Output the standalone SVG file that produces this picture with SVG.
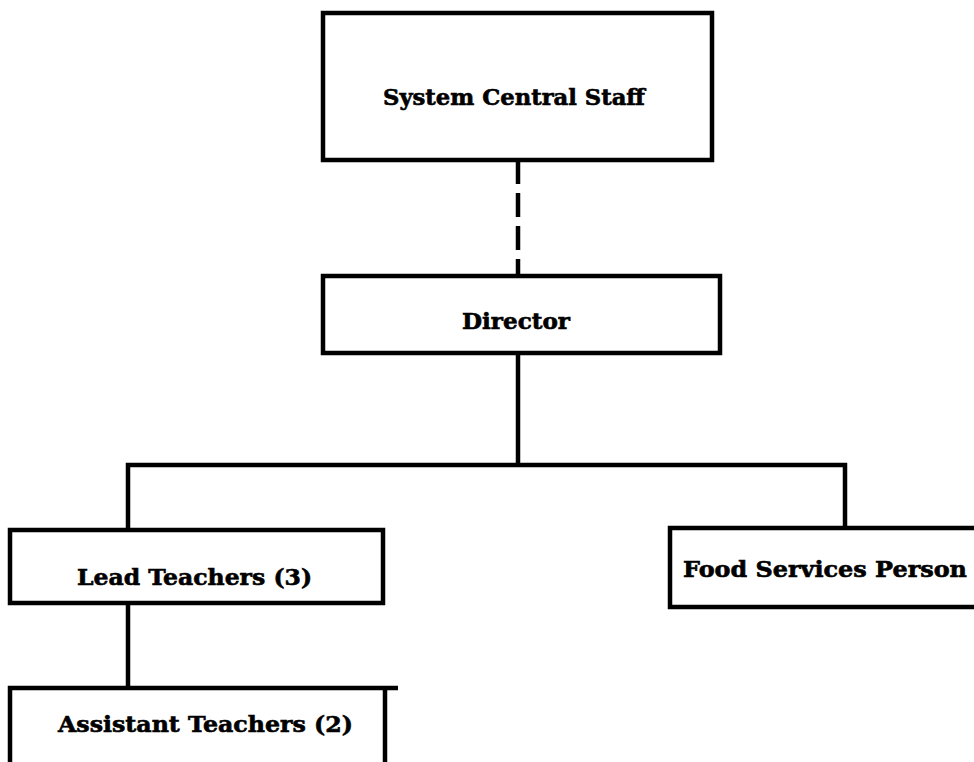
<svg xmlns="http://www.w3.org/2000/svg" width="974" height="762" viewBox="0 0 974 762">
<style>
.box{fill:#fff;stroke:#000;stroke-width:4.5}
.ln{fill:none;stroke:#000;stroke-width:4.5}
.dash{fill:none;stroke:#000;stroke-width:4.5;stroke-dasharray:24,9}
.t{font-family:"DejaVu Serif","Liberation Serif",serif;font-weight:bold;font-size:22px;fill:#000;stroke:#000;stroke-width:0.6}
</style>
<rect width="974" height="762" fill="#fff"/>
<g id="connectors">
<line class="dash" x1="518" y1="160" x2="518" y2="276"/>
<line class="ln" x1="518" y1="353" x2="518" y2="465"/>
<polyline class="ln" points="128,530 128,465 845,465 845,528"/>
<line class="ln" x1="128" y1="603" x2="128" y2="688"/>
</g>
<g id="system-central-staff">
<rect class="box" x="323" y="13" width="389" height="147"/>
<text class="t" x="383" y="105" textLength="262" lengthAdjust="spacingAndGlyphs">System Central Staff</text>
</g>
<g id="director">
<rect class="box" x="323" y="276" width="397" height="77"/>
<text class="t" x="462" y="329" textLength="108" lengthAdjust="spacingAndGlyphs">Director</text>
</g>
<g id="lead-teachers">
<rect class="box" x="10" y="530" width="373" height="73"/>
<text class="t" x="77" y="585" textLength="235" lengthAdjust="spacingAndGlyphs">Lead Teachers (3)</text>
</g>
<g id="food-services">
<path class="ln" d="M990,528 H670 V607 H990"/>
<text class="t" x="683" y="577" textLength="284" lengthAdjust="spacingAndGlyphs">Food Services Person</text>
</g>
<g id="assistant-teachers">
<path class="ln" d="M398,688 H10 V780"/>
<line class="ln" x1="385" y1="688" x2="385" y2="780"/>
<text class="t" x="58" y="732" textLength="295" lengthAdjust="spacingAndGlyphs">Assistant Teachers (2)</text>
</g>
</svg>
